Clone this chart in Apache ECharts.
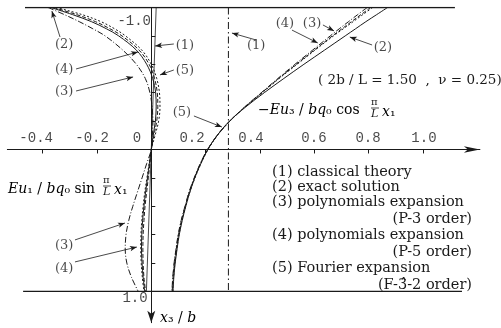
<!DOCTYPE html>
<html>
<head>
<meta charset="utf-8">
<script src="https://cdn.jsdelivr.net/npm/echarts@6/dist/echarts.min.js"></script>
<style>
  html, body { margin: 0; padding: 0; background: #fff; }
  #chart { width: 501px; height: 328px; }
</style>
</head>
<body>
<div id="chart"></div>
<script>
// Depth coordinate x3/b (top face -1, bottom face +1)
const x3Levels = [-1, -0.95, -0.9, -0.85, -0.8, -0.7, -0.6, -0.5, -0.4, -0.3, -0.2, -0.1, 0,
                  0.1, 0.2, 0.3, 0.4, 0.5, 0.6, 0.7, 0.8, 0.9, 1.0];

// In-plane displacement  E u1 / (b q0 sin(pi x1 / L))
const u1Exact   = [-0.37, -0.29, -0.22, -0.165, -0.12, -0.055, -0.017, 0.005, 0.016, 0.018, 0.015, 0.007, 0,
                   -0.007, -0.014, -0.021, -0.027, -0.032, -0.035, -0.036, -0.034, -0.03, -0.024];
const u1P3      = [-0.38, -0.32, -0.265, -0.215, -0.17, -0.105, -0.055, -0.022, -0.005, 0.003, 0.006, 0.004, 0,
                   -0.017, -0.034, -0.051, -0.068, -0.083, -0.093, -0.096, -0.09, -0.073, -0.048];
const u1P5      = [-0.36, -0.275, -0.205, -0.152, -0.108, -0.045, -0.008, 0.012, 0.022, 0.024, 0.02, 0.01, 0,
                   -0.005, -0.011, -0.017, -0.023, -0.027, -0.03, -0.031, -0.03, -0.027, -0.021];
const u1Fourier = [-0.35, -0.255, -0.185, -0.135, -0.095, -0.035, 0.0, 0.02, 0.03, 0.032, 0.027, 0.014, 0,
                   -0.008, -0.016, -0.024, -0.03, -0.035, -0.038, -0.039, -0.037, -0.033, -0.027];

// Transverse displacement  -E u3 / (b q0 cos(pi x1 / L))
const u3Exact   = [0.87, 0.83, 0.79, 0.752, 0.714, 0.638, 0.562, 0.488, 0.416, 0.348, 0.288, 0.243, 0.208,
                   0.182, 0.16, 0.142, 0.127, 0.114, 0.103, 0.095, 0.088, 0.083, 0.08];
const u3P3      = [0.795, 0.76, 0.726, 0.692, 0.659, 0.594, 0.529, 0.466, 0.405, 0.344, 0.289, 0.243, 0.207,
                   0.18, 0.158, 0.139, 0.124, 0.11, 0.099, 0.091, 0.084, 0.079, 0.076];
const u3P5      = [0.808, 0.772, 0.737, 0.702, 0.667, 0.6, 0.534, 0.469, 0.407, 0.345, 0.289, 0.243, 0.208,
                   0.181, 0.159, 0.14, 0.125, 0.111, 0.1, 0.092, 0.085, 0.08, 0.077];
const u3Fourier = [0.815, 0.779, 0.743, 0.707, 0.671, 0.603, 0.537, 0.471, 0.409, 0.346, 0.29, 0.244, 0.209,
                   0.183, 0.161, 0.142, 0.127, 0.113, 0.102, 0.094, 0.087, 0.082, 0.079];

// Classical plate theory
const classicalX3 = [-1, 1];
const u1Classical = [0.018, -0.018];
const u3Classical = [0.284, 0.284];

// Plate faces x3/b = -1 and +1
const faceTopU = [-0.465, 1.118];
const faceBottomU = [-0.472, 1.144];

// Axis ticks and labels
const xTicks = [-0.4, -0.2, 0.2, 0.4, 0.6, 0.8, 1.0];
const yTicks = [-0.8, -0.6, -0.4, -0.2, 0.2, 0.4, 0.6, 0.8];
const xTickText = ['-0.4', '-0.2', '0', '0.2', '0.4', '0.6', '0.8', '1.0'];
const xTickTextAt = [[-0.424, -0.081], [-0.218, -0.081], [-0.053, -0.081], [0.15, -0.081],
                     [0.367, -0.081], [0.599, -0.081], [0.798, -0.081], [1.004, -0.081]];
const yEndText = ['-1.0', '1.0'];
const yEndTextAt = [[-0.063, -0.905], [-0.06, 1.045]];

// Curve tags and their leader arrows [fromU, fromX3, toU, toX3]
const tagText = ['(2)', '(4)', '(3)', '(1)', '(5)', '(5)', '(1)', '(4)', '(3)', '(2)', '(3)', '(4)'];
const tagAt = [[-0.321, -0.736], [-0.321, -0.56], [-0.321, -0.405], [0.124, -0.729], [0.124, -0.553],
               [0.113, -0.257], [0.386, -0.729], [0.492, -0.884], [0.592, -0.884], [0.853, -0.715],
               [-0.321, 0.68], [-0.321, 0.842]];
const leaders = [[-0.336, -0.792, -0.366, -0.975], [-0.277, -0.567, -0.049, -0.687],
                 [-0.277, -0.412, -0.067, -0.511], [0.083, -0.743, 0.014, -0.729],
                 [0.083, -0.56, 0.032, -0.525], [0.157, -0.236, 0.26, -0.158],
                 [0.386, -0.771, 0.297, -0.82], [0.518, -0.841, 0.613, -0.75],
                 [0.632, -0.877, 0.673, -0.835], [0.813, -0.736, 0.731, -0.792],
                 [-0.281, 0.637, -0.097, 0.518], [-0.281, 0.792, -0.053, 0.687]];

const INK = '#1a1a1a';
const pairs = (us, vs) => vs.map((v, i) => [us[i], v]);

const styles = {
  classical: [7, 3, 1.5, 3],
  exact: 'solid',
  p3: [6, 2, 1, 2],
  p5: [4, 2],
  fourier: [2, 2]
};

function curve(name, us, vs, type) {
  return {
    name, type: 'line', data: pairs(us, vs), smooth: 0.35, showSymbol: false, symbol: 'none',
    lineStyle: { color: INK, width: 1, type }, z: 3, silent: true
  };
}

function textSeries(texts, coords, font) {
  return {
    type: 'scatter', symbolSize: 0, silent: true, z: 5,
    data: coords.map((c, i) => ({ value: c, name: texts[i] })),
    label: {
      show: true, position: 'inside', formatter: p => p.name,
      color: INK, fontFamily: font.family, fontSize: font.size,
      align: 'center', verticalAlign: 'middle'
    }
  };
}

const chart = echarts.init(document.getElementById('chart'), null, { renderer: 'canvas' });

const mathFont = 'DejaVu Serif';
function mathRich(size) {
  return {
    i: { fontFamily: mathFont, fontStyle: 'italic', fontSize: size, color: INK },
    n: { fontFamily: mathFont, fontSize: size, color: INK }
  };
}

function fraction(x, y) {
  return [
    { type: 'text', left: x, top: y - 11, style: { text: 'π', font: '10px "DejaVu Serif"', fill: INK } },
    { type: 'line', shape: { x1: x, y1: y, x2: x + 8, y2: y }, style: { stroke: INK, lineWidth: 0.8 } },
    { type: 'text', left: x, top: y + 1, style: { text: 'L', font: 'italic 11px "DejaVu Serif"', fill: INK } }
  ];
}

const legendFont = '14.5px "DejaVu Serif"';
const legendLines = [
  ['(1) classical theory', 272, 172, 'left'],
  ['(2) exact solution', 272, 187, 'left'],
  ['(3) polynomials expansion', 272, 202, 'left'],
  ['(P-3 order)', 472, 219, 'right'],
  ['(4) polynomials expansion', 272, 235, 'left'],
  ['(P-5 order)', 472, 252, 'right'],
  ['(5) Fourier expansion', 272, 268, 'left'],
  ['(F-3\u0302-2 order)', 472, 285, 'right']
];

const graphics = [];
legendLines.forEach(([t, x, y, a]) => {
  graphics.push({
    type: 'text', x, y,
    style: { text: t, font: legendFont, fill: INK, textAlign: a, textVerticalAlign: 'middle' }
  });
});
graphics.push({
  type: 'text', x: 318, y: 80,
  style: { text: '( 2b / L = 1.50  ,  ν = 0.25)', font: '13.5px "DejaVu Serif"', fill: INK,
           textVerticalAlign: 'middle' }
});
graphics.push({
  type: 'text', x: 8, y: 189,
  style: { text: '{i|Eu}{n|₁ / }{i|bq}{n|₀ sin}', rich: mathRich(14), textVerticalAlign: 'middle' }
});
graphics.push(...fraction(103, 186));
graphics.push({
  type: 'text', x: 114, y: 190,
  style: { text: '{i|x}{n|₁}', rich: mathRich(14), textVerticalAlign: 'middle' }
});
graphics.push({
  type: 'text', x: 258, y: 110,
  style: { text: '{n|−}{i|Eu}{n|₃ / }{i|bq}{n|₀ cos}', rich: mathRich(14), textVerticalAlign: 'middle' }
});
graphics.push(...fraction(371, 108));
graphics.push({
  type: 'text', x: 382, y: 112,
  style: { text: '{i|x}{n|₁}', rich: mathRich(14), textVerticalAlign: 'middle' }
});
graphics.push({
  type: 'text', x: 160, y: 318,
  style: { text: '{i|x}{n|₃ / }{i|b}', rich: mathRich(14), textVerticalAlign: 'middle' }
});

const option = {
  backgroundColor: '#fff',
  animation: false,
  grid: { left: 7.35, right: 21.1, top: 7.5, bottom: 5.3, containLabel: false },
  xAxis: {
    type: 'value', min: -0.53, max: 1.21,
    splitLine: { show: false },
    axisLine: { onZero: true, symbol: ['none', 'arrow'], symbolSize: [5, 16],
                lineStyle: { color: INK, width: 1 } },
    axisTick: { show: true, inside: false, length: 4, customValues: xTicks,
                lineStyle: { color: INK, width: 1 } },
    axisLabel: { show: false }
  },
  yAxis: {
    type: 'value', inverse: true, min: -1, max: 1.22,
    splitLine: { show: false },
    // inverse axis: the arrow sits at the start of the drawn line (bottom)
    axisLine: { onZero: true, symbol: ['arrow', 'none'], symbolSize: [6, 12],
                lineStyle: { color: INK, width: 1 } },
    axisTick: { show: true, inside: true, length: 4, customValues: yTicks,
                lineStyle: { color: INK, width: 1 } },
    axisLabel: { show: false }
  },
  graphic: graphics,
  series: [
    {
      type: 'line', name: 'top face', data: pairs(faceTopU, [-1, -1]), symbol: 'none',
      lineStyle: { color: INK, width: 1.5 }, silent: true
    },
    {
      type: 'line', name: 'bottom face', data: pairs(faceBottomU, [1, 1]), symbol: 'none',
      lineStyle: { color: INK, width: 1.3 }, silent: true
    },
    {
      type: 'line', name: 'classical u1', data: pairs(u1Classical, classicalX3), symbol: 'none',
      lineStyle: { color: INK, width: 0.8 }, silent: true
    },
    {
      type: 'line', name: 'classical u3', data: pairs(u3Classical, classicalX3), symbol: 'none',
      lineStyle: { color: INK, width: 1, type: styles.classical }, silent: true
    },
    curve('exact u1', u1Exact, x3Levels, styles.exact),
    curve('P-3 u1', u1P3, x3Levels, styles.p3),
    curve('P-5 u1', u1P5, x3Levels, styles.p5),
    curve('Fourier u1', u1Fourier, x3Levels, styles.fourier),
    curve('exact u3', u3Exact, x3Levels, styles.exact),
    curve('P-3 u3', u3P3, x3Levels, styles.p3),
    curve('P-5 u3', u3P5, x3Levels, styles.p5),
    curve('Fourier u3', u3Fourier, x3Levels, styles.fourier),
    {
      type: 'line', name: 'leaders', data: [], silent: true,
      markLine: {
        silent: true, animation: false, symbol: ['none', 'arrow'], symbolSize: [4, 7],
        label: { show: false },
        lineStyle: { color: INK, width: 0.8, type: 'solid' },
        emphasis: { disabled: true },
        data: leaders.map(l => [{ coord: [l[0], l[1]] }, { coord: [l[2], l[3]] }])
      }
    },
    textSeries(tagText, tagAt, { family: 'DejaVu Serif', size: 13 }),
    textSeries(xTickText, xTickTextAt, { family: 'Liberation Mono', size: 14 }),
    textSeries(yEndText, yEndTextAt, { family: 'Liberation Mono', size: 14 })
  ]
};

chart.setOption(option);
</script>
</body>
</html>
